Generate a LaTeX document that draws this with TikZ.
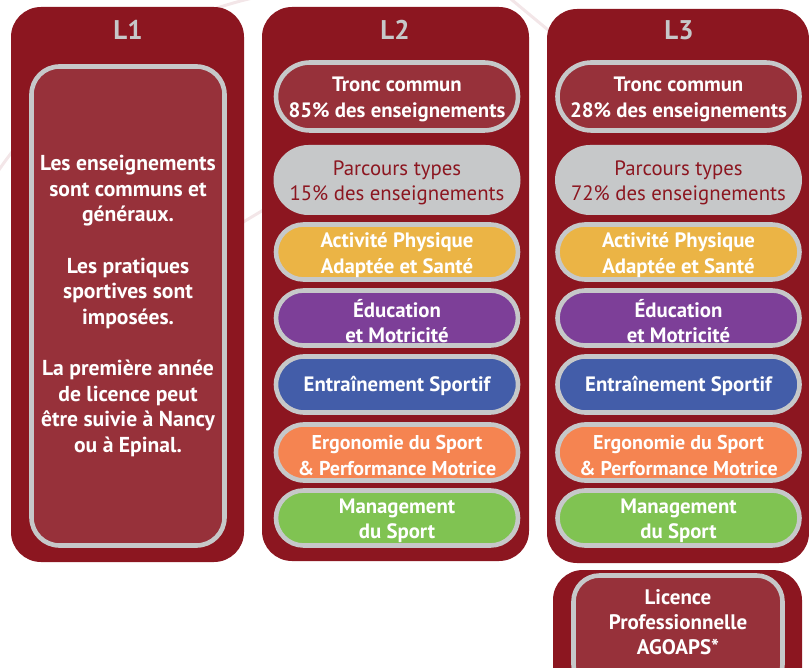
\documentclass[tikz,border=0pt]{standalone}
\usepackage{fontspec}
\setmainfont{PT Sans}
\usetikzlibrary{shapes.misc}
\definecolor{darkred}{HTML}{8C1620}
\definecolor{midred}{HTML}{97313A}
\definecolor{lgray}{HTML}{C6C8C9}
\definecolor{apyellow}{HTML}{EBB445}
\definecolor{edpurple}{HTML}{7D3F98}
\definecolor{enblue}{HTML}{435DA9}
\definecolor{erorange}{HTML}{F58451}
\definecolor{mggreen}{HTML}{80C352}
\definecolor{faint}{HTML}{F3E6E8}
\tikzset{
  panel/.style={fill=darkred, rounded corners=30pt, inner sep=0pt},
  title/.style={text=lgray, font=\bfseries\fontsize{27}{30}\selectfont, inner sep=0pt},
  pill/.style={rounded rectangle, draw=lgray, line width=4.6pt, minimum width=242pt, inner sep=0pt},
  grey pill/.style={rounded rectangle, fill=lgray, minimum width=247pt, inner sep=0pt},
  ptext/.style={align=center, text=white, inner sep=0pt, font=\bfseries\fontsize{20.8}{25.5}\selectfont},
  gtext/.style={align=center, text=darkred, inner sep=0pt, font=\fontsize{20.8}{25}\selectfont},
  bodytext/.style={text=white, align=center, font=\bfseries\fontsize{21.6}{25.6}\selectfont, inner sep=0pt}
}
\begin{document}
\begin{tikzpicture}[x=1pt,y=-1pt]
\useasboundingbox (0,0) rectangle (809,668);
\clip (0,0) rectangle (809,668);
% faint background decoration
\draw[faint, line width=3pt] (-20,200) .. controls (60,60) and (200,0) .. (300,-10);
\draw[faint, line width=3pt] (500,-10) .. controls (560,40) and (620,90) .. (640,100);
\draw[faint, line width=3pt] (230,230) -- (280,200);
% L1
\node[panel, minimum width=233pt, minimum height=555pt] (p1) at (127.5,284.5) {};
\node[title] (t1) at (128,30) {L1};
\node[draw=lgray, fill=midred, line width=4.6pt, rounded corners=28pt, minimum width=193pt, minimum height=479pt, inner sep=0pt] (b1) at (128,306) {};
\node[bodytext] (x1) at ([yshift=0pt]b1.center) {Les enseignements\\sont communs et\\généraux.\\[25.6pt]Les pratiques\\sportives sont\\imposées.\\[25.6pt]La première année\\de licence peut\\être suivie à Nancy\\ou à Epinal.};
% L2
\node[panel, minimum width=267pt, minimum height=554pt] (p2) at (395.5,284) {};
\node[title] (t2) at (395,30) {L2};
\node[pill, fill=midred, minimum height=68pt] (tc2) at (397,96.5) {};
\node[ptext] at ([yshift=-3pt]tc2.center) {Tronc commun\\85\% des enseignements};
\node[grey pill, minimum height=70pt] (pt2) at (397,180) {};
\node[gtext] at ([yshift=-3pt]pt2.center) {Parcours types\\15\% des enseignements};
\node[pill, fill=apyellow, minimum height=55pt] (ap2) at (397,252) {};
\node[ptext] at ([yshift=-3pt]ap2.center) {Activité Physique\\Adaptée et Santé};
\node[pill, fill=edpurple, minimum height=55pt] (ed2) at (397,318) {};
\node[ptext] at ([yshift=-3pt]ed2.center) {Éducation\\et Motricité};
\node[pill, fill=enblue, minimum height=56pt] (en2) at (397,384.5) {};
\node[ptext] at ([yshift=-1pt]en2.center) {Entraînement Sportif};
\node[pill, fill=erorange, minimum height=56pt] (er2) at (397,452.5) {};
\node[ptext, font=\bfseries\fontsize{20}{25}\selectfont] at ([yshift=-3pt]er2.center) {Ergonomie du Sport\\\& Performance Motrice};
\node[pill, fill=mggreen, minimum height=55pt] (mg2) at (397,518) {};
\node[ptext] at ([yshift=-3pt]mg2.center) {Management\\du Sport};
% L3
\node[panel, minimum width=262pt, minimum height=554pt] (p3) at (678,286) {};
\node[title] (t3) at (679,30) {L3};
\node[pill, fill=midred, minimum height=68pt] (tc3) at (678.5,96.5) {};
\node[ptext] at ([yshift=-3pt]tc3.center) {Tronc commun\\28\% des enseignements};
\node[grey pill, minimum height=70pt] (pt3) at (678.5,180) {};
\node[gtext] at ([yshift=-3pt]pt3.center) {Parcours types\\72\% des enseignements};
\node[pill, fill=apyellow, minimum height=55pt] (ap3) at (678.5,252) {};
\node[ptext] at ([yshift=-3pt]ap3.center) {Activité Physique\\Adaptée et Santé};
\node[pill, fill=edpurple, minimum height=55pt] (ed3) at (678.5,318) {};
\node[ptext] at ([yshift=-3pt]ed3.center) {Éducation\\et Motricité};
\node[pill, fill=enblue, minimum height=56pt] (en3) at (678.5,384.5) {};
\node[ptext] at ([yshift=-1pt]en3.center) {Entraînement Sportif};
\node[pill, fill=erorange, minimum height=56pt] (er3) at (678.5,452.5) {};
\node[ptext, font=\bfseries\fontsize{20}{25}\selectfont] at ([yshift=-3pt]er3.center) {Ergonomie du Sport\\\& Performance Motrice};
\node[pill, fill=mggreen, minimum height=55pt] (mg3) at (678.5,518) {};
\node[ptext] at ([yshift=-3pt]mg3.center) {Management\\du Sport};
% Licence professionnelle
\node[panel, minimum width=249pt, minimum height=130pt] (p4) at (677.5,635) {};
\node[draw=lgray, fill=midred, line width=4.6pt, rounded corners=26pt, minimum width=209pt, minimum height=115pt, inner sep=0pt] (b4) at (678,633) {};
\node[bodytext, font=\bfseries\fontsize{21}{25}\selectfont] (x4) at (678,622) {Licence\\Professionnelle\\AGOAPS*};
\end{tikzpicture}
\end{document}
